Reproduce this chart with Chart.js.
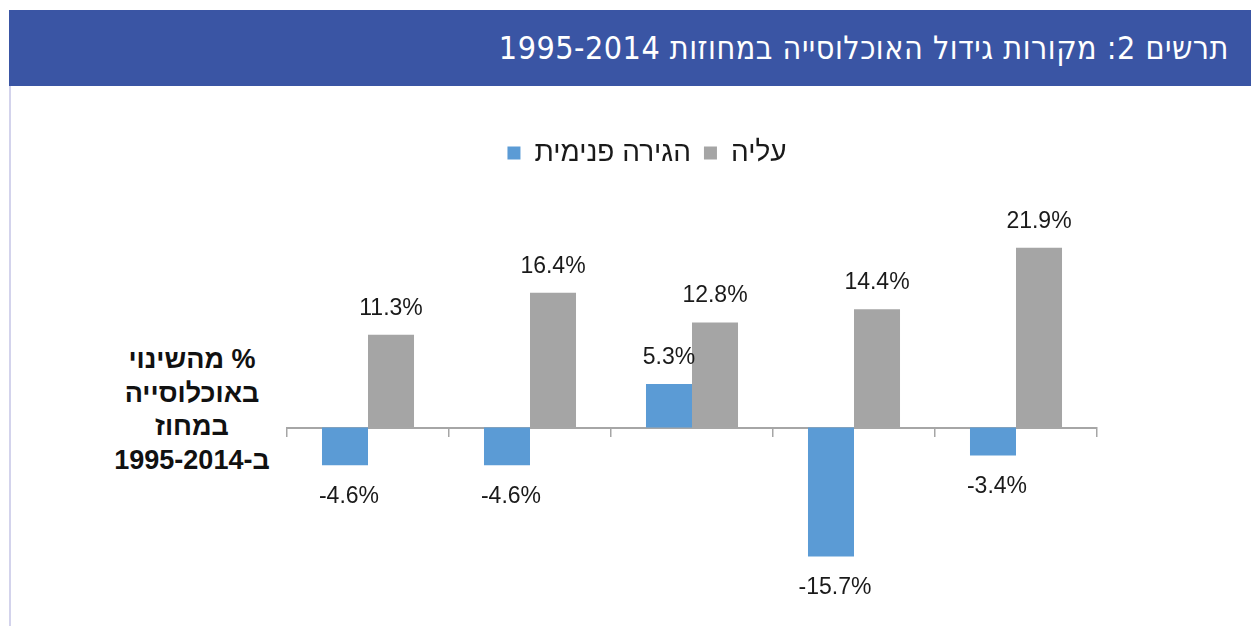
<!DOCTYPE html>
<html lang="he">
<head>
<meta charset="utf-8">
<script src="https://cdn.jsdelivr.net/npm/chart.js@4.4.1/dist/chart.umd.min.js"></script>
<style>
    html, body { margin: 0; padding: 0; background: #fff; }
    body { width: 1251px; height: 626px; position: relative; overflow: hidden; }
    .header {
        position: absolute; left: 9px; top: 10px; width: 1242px; height: 76px;
        background: #3A55A4; color: #fff; direction: rtl;
        font-family: "Liberation Sans Narrow", "DejaVu Sans Condensed", sans-serif;
        font-size: 32px; letter-spacing: 0.5px; line-height: 76px;
        box-sizing: border-box; padding-right: 22px; white-space: nowrap;
    }
    .side-line { position: absolute; left: 9px; top: 86px; width: 2px; height: 540px; background: #D3D3EC; }
    .y-label {
        position: absolute; left: 92px; top: 343px; width: 200px;
        direction: rtl; text-align: center;
        font-family: "Liberation Sans", Arial, sans-serif; font-weight: bold;
        font-size: 27px; line-height: 33.7px; color: #111;
    }
    #chartBox { position: absolute; left: 0; top: 86px; width: 1251px; height: 540px; }
</style>
</head>
<body>
<div class="header">תרשים 2: מקורות גידול האוכלוסייה במחוזות 1995-2014</div>
<div class="side-line"></div>
<div class="y-label">% מהשינוי<br>באוכלוסייה<br>במחוז<br>ב-1995-2014</div>
<div id="chartBox"><canvas id="popChart" width="1251" height="540"></canvas></div>
<script>
// district categories (names are not shown on the chart)
const categories = ["1", "2", "3", "4", "5"];
const seriesNames = ["הגירה פנימית", "עליה"];
const internalMigration = [-4.6, -4.6, 5.3, -15.7, -3.4];
const aliyah = [11.3, 16.4, 12.8, 14.4, 21.9];

// draw value labels above / below each bar
const valueLabels = {
    id: "valueLabels",
    afterDatasetsDraw(chart) {
        const ctx = chart.ctx;
        ctx.save();
        ctx.font = '23px "Liberation Sans", Arial, sans-serif';
        ctx.fillStyle = "#1a1a1a";
        ctx.textAlign = "center";
        chart.data.datasets.forEach(function (ds, i) {
            chart.getDatasetMeta(i).data.forEach(function (bar, j) {
                const v = ds.data[j];
                const txt = v.toFixed(1) + "%";
                if (v >= 0) {
                    ctx.textBaseline = "alphabetic";
                    ctx.fillText(txt, bar.x, bar.y - 20);
                } else {
                    ctx.textBaseline = "top";
                    ctx.fillText(txt, bar.x + 4, bar.y + 20);
                }
            });
        });
        ctx.restore();
    }
};

new Chart(document.getElementById("popChart"), {
    type: "bar",
    data: {
        labels: categories,
        datasets: [
            { label: seriesNames[0], data: internalMigration, backgroundColor: "#5B9BD5" },
            { label: seriesNames[1], data: aliyah, backgroundColor: "#A5A5A5" }
        ]
    },
    options: {
        responsive: false,
        animation: false,
        devicePixelRatio: 1,
        layout: { padding: { left: 197, right: 154, top: 40, bottom: 10 } },
        datasets: { bar: { categoryPercentage: 0.568, barPercentage: 1.0 } },
        plugins: {
            legend: {
                position: "top",
                labels: {
                    boxWidth: 13, boxHeight: 13, padding: 13, color: "#1a1a1a",
                    font: { family: '"Liberation Sans", Arial, sans-serif', size: 28 }
                }
            },
            tooltip: { enabled: false }
        },
        scales: {
            x: {
                position: { y: 0 },
                ticks: { display: false },
                grid: { display: true, drawOnChartArea: false, drawTicks: true, tickLength: 8, color: "#A6A6A6", lineWidth: 1.5 },
                border: { display: true, color: "#A6A6A6", width: 2 }
            },
            y: {
                min: -22.95,
                max: 30.5,
                ticks: { display: false },
                grid: { display: false },
                border: { display: false },
                afterFit: function (scale) { scale.width = 90; }
            }
        }
    },
    plugins: [valueLabels]
});
</script>
</body>
</html>
